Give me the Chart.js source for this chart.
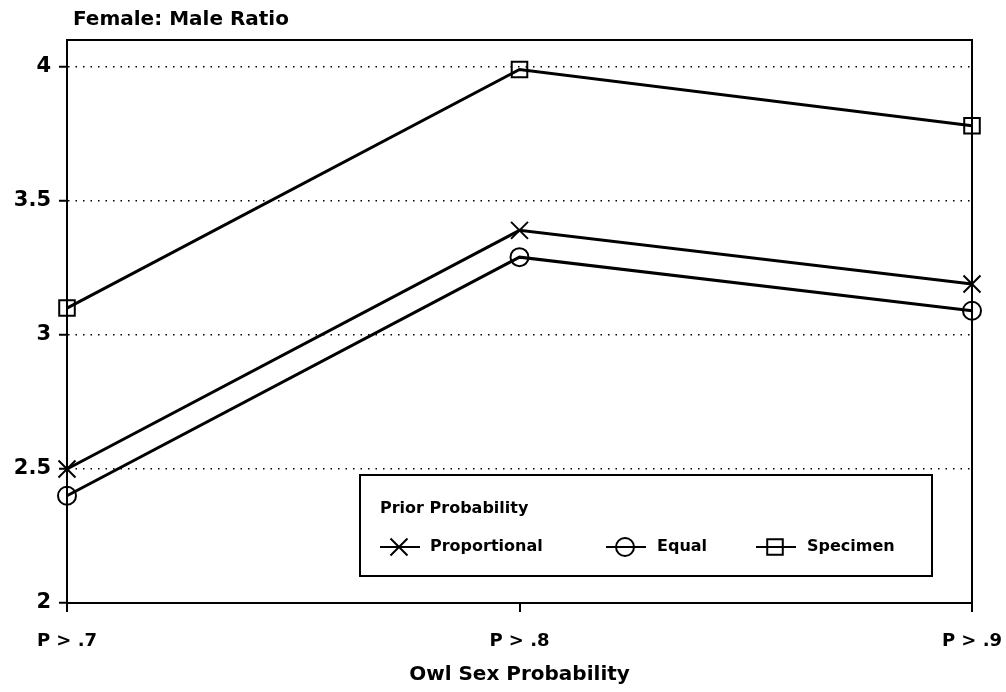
<!DOCTYPE html>
<html>
  <head>
    <title>Female: Male Ratio</title>
    <script src="https://cdn.jsdelivr.net/npm/chart.js"></script>
    <style>
      body {
        margin: 0;
        background: #fff;
      }
      canvas {
        display: block;
      }
    </style>
  </head>
  <body>
    <canvas id="graph" width="1006" height="692"></canvas>
    <script>
      const categories = ["P > .7", "P > .8", "P > .9"];
      const proportional = [2.5, 3.39, 3.19];
      const equal = [2.4, 3.29, 3.09];
      const specimen = [3.1, 3.99, 3.78];
      const yTicks = [2, 2.5, 3, 3.5, 4];
      const seriesNames = ["Proportional", "Equal", "Specimen"];
      const legendTitle = "Prior Probability";
      const yTitle = "Female: Male Ratio";
      const xTitle = "Owl Sex Probability";

      const FONT = "'DejaVu Sans', Verdana, sans-serif";

      // frame, top-left title and the boxed legend
      const extras = {
        id: "extras",
        afterDraw(chart) {
          const ctx = chart.ctx;
          const a = chart.chartArea;
          ctx.save();
          ctx.strokeStyle = "#000";
          ctx.lineWidth = 2;
          ctx.beginPath();
          ctx.moveTo(a.left, a.top);
          ctx.lineTo(a.right, a.top);
          ctx.lineTo(a.right, a.bottom);
          ctx.stroke();

          ctx.fillStyle = "#000";
          ctx.font = "bold 20px " + FONT;
          ctx.textBaseline = "middle";
          ctx.fillText(yTitle, 73, 20);

          // legend box
          ctx.fillStyle = "#fff";
          ctx.fillRect(360, 475, 572, 101);
          ctx.lineWidth = 2;
          ctx.strokeRect(360, 475, 572, 101);

          const slots = [
            { x: 380, tx: 430 },
            { x: 606, tx: 657 },
            { x: 756, tx: 807 },
          ];
          chart.data.datasets.forEach((ds, i) => {
            const s = slots[i];
            const y = 547;
            ctx.beginPath();
            ctx.lineWidth = 2;
            ctx.moveTo(s.x, y);
            ctx.lineTo(s.x + 40, y);
            ctx.stroke();
            ctx.fillStyle = "rgba(0,0,0,0)";
            Chart.helpers.drawPoint(
              ctx,
              {
                pointStyle: ds.pointStyle,
                radius: ds.pointRadius,
                rotation: 0,
                borderWidth: 2,
              },
              s.x + 19,
              y
            );
            ctx.fillStyle = "#000";
            ctx.font = "bold 16px " + FONT;
            ctx.fillText(ds.label, s.tx, y);
          });
          ctx.fillStyle = "#000";
          ctx.font = "bold 16px " + FONT;
          ctx.fillText(legendTitle, 380, 509);
          ctx.restore();
        },
      };

      function series(label, data, style, radius) {
        return {
          label: label,
          data: data,
          borderColor: "#000",
          backgroundColor: "rgba(0,0,0,0)",
          borderWidth: 3,
          pointStyle: style,
          pointRadius: radius,
          pointBorderWidth: 2,
          pointBorderColor: "#000",
          pointBackgroundColor: "rgba(0,0,0,0)",
          tension: 0,
        };
      }

      new Chart(document.getElementById("graph").getContext("2d"), {
        type: "line",
        data: {
          labels: categories,
          datasets: [
            series(seriesNames[0], proportional, "crossRot", 12),
            series(seriesNames[1], equal, "circle", 9),
            series(seriesNames[2], specimen, "rect", 11),
          ],
        },
        options: {
          responsive: false,
          animation: false,
          layout: { padding: { top: 40, right: 34, left: 0, bottom: 0 } },
          plugins: {
            legend: { display: false },
            tooltip: { enabled: false },
          },
          scales: {
            x: {
              offset: false,
              grid: {
                drawOnChartArea: false,
                drawTicks: true,
                tickLength: 9,
                color: "#000",
                lineWidth: 2,
              },
              border: { display: true, color: "#000", width: 2 },
              ticks: {
                color: "#000",
                font: { family: FONT, size: 18, weight: "bold" },
                padding: 19,
                maxRotation: 0,
                autoSkip: false,
              },
              title: {
                display: true,
                text: xTitle,
                color: "#000",
                font: { family: FONT, size: 20, weight: "bold" },
                padding: { top: 0, bottom: 5 },
              },
              afterFit(s) {
                s.height = 89;
                s.paddingLeft = 0;
                s.paddingRight = 0;
              },
            },
            y: {
              min: 2,
              max: 4.1,
              afterBuildTicks(s) {
                s.ticks = yTicks.map((v) => ({ value: v }));
              },
              grid: {
                color: "#000",
                lineWidth: 1.5,
                tickLength: 8,
                tickWidth: 2,
                tickBorderDash: [],
              },
              border: { display: true, color: "#000", width: 2, dash: [1.5, 6] },
              ticks: {
                color: "#000",
                font: { family: FONT, size: 21, weight: "bold" },
                padding: 8,
                callback: (v) => String(v),
              },
              afterFit(s) {
                s.width = 67;
              },
            },
          },
        },
        plugins: [extras],
      });
    </script>
  </body>
</html>
